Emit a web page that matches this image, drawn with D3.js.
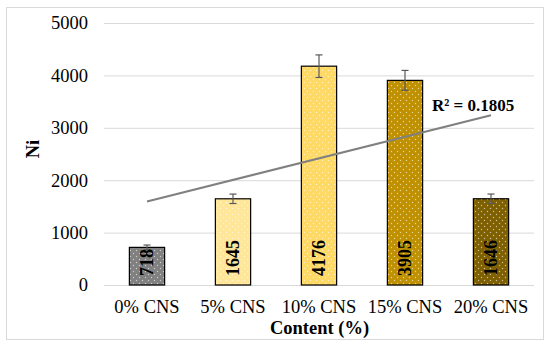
<!DOCTYPE html>
<html>
<head>
<meta charset="utf-8">
<script src="https://cdn.jsdelivr.net/npm/d3@7"></script>
<style>
  body { margin: 0; background: #fff; }
  svg { font-family: "Liberation Serif", "Times New Roman", serif; }
</style>
</head>
<body>
<svg id="chart" width="550" height="349"></svg>
<script>
const categories = ["0% CNS", "5% CNS", "10% CNS", "15% CNS", "20% CNS"];
const niValues = [718, 1645, 4176, 3905, 1646];
const niErrors = [45, 90, 215, 190, 90];
const barColors = ["#808080", "#FFE699", "#FFD966", "#BF9000", "#7F6000"];
const yTicks = [0, 1000, 2000, 3000, 4000, 5000];
const rSquaredLabel = "R² = 0.1805";

const svg = d3.select("#chart");
const plotLeft = 104, plotRight = 534, plotTop = 23, plotBottom = 285;

// outer chart border
svg.append("rect")
  .attr("x", 6.5).attr("y", 7.5)
  .attr("width", 537).attr("height", 332)
  .attr("fill", "#fff").attr("stroke", "#d9d9d9");

const x = d3.scaleBand().domain(categories).range([plotLeft, plotRight])
  .paddingInner(0.59).paddingOuter(0.295);
const y = d3.scaleLinear().domain([0, 5000]).range([plotBottom, plotTop]);

// dotted fill patterns, one per bar colour
const defs = svg.append("defs");
barColors.forEach((c, i) => {
  const p = defs.append("pattern")
    .attr("id", "dots" + i)
    .attr("patternUnits", "userSpaceOnUse")
    .attr("width", 6).attr("height", 6);
  p.append("rect").attr("width", 6).attr("height", 6).attr("fill", c);
  p.append("circle").attr("cx", 1.5).attr("cy", 1.5).attr("r", 0.7).attr("fill", "#fff").attr("opacity", 0.6);
  p.append("circle").attr("cx", 4.5).attr("cy", 4.5).attr("r", 0.7).attr("fill", "#fff").attr("opacity", 0.6);
});

// y axis with gridlines
const yAxis = svg.append("g")
  .attr("transform", `translate(${plotLeft},0)`)
  .call(d3.axisLeft(y).tickValues(yTicks).tickFormat(d3.format("d"))
    .tickSize(-(plotRight - plotLeft)).tickPadding(16));
yAxis.attr("font-family", null).attr("font-size", null);
yAxis.select(".domain").remove();
yAxis.selectAll(".tick line").attr("stroke", "#d9d9d9").attr("stroke-width", 1);
yAxis.selectAll(".tick text")
  .attr("font-size", 18.5).attr("fill", "#000");

// bars
const data = categories.map((c, i) => ({ c, v: niValues[i], e: niErrors[i], i }));
svg.append("g").selectAll("rect")
  .data(data)
  .join("rect")
  .attr("x", d => x(d.c))
  .attr("y", d => y(d.v))
  .attr("width", x.bandwidth())
  .attr("height", d => y(0) - y(d.v))
  .attr("fill", d => `url(#dots${d.i})`)
  .attr("stroke", "#000")
  .attr("stroke-width", 1.2);

// error bars
const err = svg.append("g").attr("stroke", "#595959").attr("stroke-width", 1.2);
data.forEach(d => {
  const cx = x(d.c) + x.bandwidth() / 2;
  err.append("line").attr("x1", cx).attr("x2", cx).attr("y1", y(d.v + d.e)).attr("y2", y(d.v - d.e));
  err.append("line").attr("x1", cx - 3.5).attr("x2", cx + 3.5).attr("y1", y(d.v + d.e)).attr("y2", y(d.v + d.e));
  err.append("line").attr("x1", cx - 3.5).attr("x2", cx + 3.5).attr("y1", y(d.v - d.e)).attr("y2", y(d.v - d.e));
});

// data labels, rotated, at bar base
svg.append("g").selectAll("text")
  .data(data)
  .join("text")
  .attr("transform", d => `translate(${x(d.c) + x.bandwidth() / 2},${y(0) - 9}) rotate(-90)`)
  .attr("dy", "0.35em")
  .attr("font-size", 18)
  .attr("font-weight", "bold")
  .text(d => d.v);

// linear trendline (least squares over category index)
const xs = data.map((d, i) => i + 1);
const mx = d3.mean(xs), my = d3.mean(niValues);
const slope = d3.sum(xs.map((xi, i) => (xi - mx) * (niValues[i] - my))) / d3.sum(xs.map(xi => (xi - mx) ** 2));
const intercept = my - slope * mx;
const first = categories[0], last = categories[categories.length - 1];
svg.append("line")
  .attr("x1", x(first) + x.bandwidth() / 2)
  .attr("y1", y(intercept + slope * 1))
  .attr("x2", x(last) + x.bandwidth() / 2)
  .attr("y2", y(intercept + slope * categories.length))
  .attr("stroke", "#808080")
  .attr("stroke-width", 2);

svg.append("text")
  .attr("x", 432).attr("y", 111)
  .attr("font-size", 17).attr("font-weight", "bold")
  .text(rSquaredLabel);

// category labels
svg.append("g").selectAll("text")
  .data(categories)
  .join("text")
  .attr("x", d => x(d) + x.bandwidth() / 2)
  .attr("y", 313)
  .attr("text-anchor", "middle")
  .attr("font-size", 18.5)
  .text(d => d);

// axis titles
svg.append("text")
  .attr("x", 319.5).attr("y", 334)
  .attr("text-anchor", "middle")
  .attr("font-size", 18.5).attr("font-weight", "bold")
  .text("Content (%)");

svg.append("text")
  .attr("transform", "translate(33,149) rotate(-90)")
  .attr("text-anchor", "middle")
  .attr("dy", "0.35em")
  .attr("font-size", 18.5).attr("font-weight", "bold")
  .text("Ni");
</script>
</body>
</html>
